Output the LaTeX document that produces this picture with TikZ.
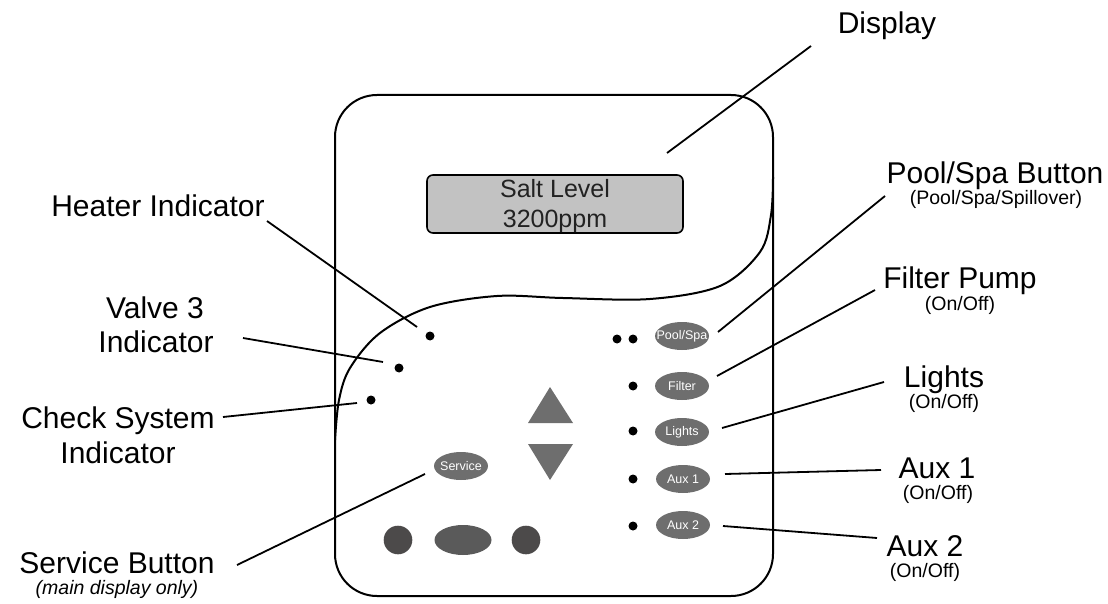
\documentclass[tikz,border=0pt]{standalone}
\usepackage{fontspec}
\setmainfont{Liberation Sans}
\usetikzlibrary{shapes.geometric}
\definecolor{btngray}{HTML}{6E6E6E}
\definecolor{darkbtn}{HTML}{4C4A4A}
\definecolor{midbtn}{HTML}{5A5A5A}
\definecolor{lcdgray}{HTML}{C2C2C2}
\definecolor{lcdtext}{HTML}{222222}
\begin{document}
\begin{tikzpicture}[x=1pt,y=-1pt,
  leader/.style={line width=1.8pt},
  outline/.style={line width=2pt},
  dot/.style={circle,fill=black,inner sep=0pt,minimum size=9pt},
  btn/.style={ellipse,fill=btngray,inner sep=0pt,minimum width=54pt,minimum height=28pt,text=white,font=\fontsize{12.5}{14}\selectfont},
  big/.style={font=\fontsize{30}{36}\selectfont,anchor=base,inner sep=0pt},
  small/.style={font=\fontsize{19.5}{23}\selectfont,anchor=base,inner sep=0pt},
  lcdfont/.style={font=\fontsize{25}{30}\selectfont,anchor=base,inner sep=0pt,text=lcdtext}]
\useasboundingbox (0,0) rectangle (1108,604);

% panel
\draw[outline, rounded corners=42pt] (335,95) rectangle (773,596);
% wavy divider
\draw[outline] plot[smooth,tension=0.55] coordinates {(773,177) (771,215) (760,252) (720,286) (650,299) (563,298) (497,296) (430,307) (380,333) (350,368) (339,400) (335,440)};

% LCD
\node[draw, line width=1.6pt, fill=lcdgray, rounded corners=6pt, minimum width=256pt, minimum height=58pt, inner sep=0pt] (lcd) at (555,204) {};
\node[lcdfont] (lcd1) at (555,197) {Salt Level};
\node[lcdfont] (lcd2) at (555,227) {3200ppm};

% indicator dots
\node[dot] (heaterdot) at (430,336) {};
\node[dot] (valvedot) at (399,368) {};
\node[dot] (checkdot) at (371,400) {};
\node[dot] (psdot1) at (617,339) {};
\node[dot] (psdot2) at (633,339) {};
\node[dot] (filterdot) at (633,386) {};
\node[dot] (lightsdot) at (633,431) {};
\node[dot] (aux1dot) at (633,479) {};
\node[dot] (aux2dot) at (633,526) {};

% buttons
\node[btn] (poolspa) at (682,336) {\makebox[0pt]{Pool/Spa}};
\node[btn] (filter) at (682,386) {\makebox[0pt]{Filter}};
\node[btn] (lights) at (682,432) {\makebox[0pt]{Lights}};
\node[btn] (aux1) at (683,479) {\makebox[0pt]{Aux 1}};
\node[btn] (aux2) at (683,525) {\makebox[0pt]{Aux 2}};
\node[btn] (service) at (461,466) {\makebox[0pt]{Service}};

% arrows
\fill[btngray] (528,423) -- (550,387) -- (573,423) -- cycle;
\fill[btngray] (528,444) -- (573,444) -- (550,480) -- cycle;

% bottom buttons
\fill[darkbtn] (398,540) circle[radius=14.3pt];
\fill[midbtn] (463,540) ellipse[x radius=28.5pt, y radius=15pt];
\fill[darkbtn] (526,540) circle[radius=14.3pt];

% labels
\node[big] (lDisplay) at (887,34) {Display};
\node[big] (lHeater) at (158,217) {Heater Indicator};
\node[big] (lValveA) at (155,318) {Valve 3};
\node[big] (lValveB) at (156,352) {Indicator};
\node[big] (lCheckA) at (118,428) {Check System};
\node[big] (lCheckB) at (118,463) {Indicator};
\node[big] (lService) at (117,573) {Service Button};
\node[small,font=\fontsize{19.5}{23}\selectfont\itshape] (lServiceB) at (117,594) {(main display only)};
\node[big] (lPool) at (995,184) {Pool/Spa Button};
\node[small] (lPoolB) at (996,205) {(Pool/Spa/Spillover)};
\node[big] (lFilter) at (960,288) {Filter Pump};
\node[small] (lFilterB) at (960,310) {(On/Off)};
\node[big] (lLights) at (944,387) {Lights};
\node[small] (lLightsB) at (944,408) {(On/Off)};
\node[big] (lAux1) at (937,478) {Aux 1};
\node[small] (lAux1B) at (938,499) {(On/Off)};
\node[big] (lAux2) at (925,556) {Aux 2};
\node[small] (lAux2B) at (925,577) {(On/Off)};

% leader end points
\coordinate (dispA) at (811,46);   \coordinate (dispB) at (667,153);
\coordinate (heatA) at (267,221);  \coordinate (heatB) at (417,327);
\coordinate (valvA) at (243,338);  \coordinate (valvB) at (383,362);
\coordinate (chkA) at (223,417);   \coordinate (chkB) at (357,403);
\coordinate (servA) at (237,565);  \coordinate (servB) at (425,474);
\coordinate (poolA) at (885,196);  \coordinate (poolB) at (718,332);
\coordinate (filtA) at (875,290);  \coordinate (filtB) at (717,376);
\coordinate (ligA) at (884,382);   \coordinate (ligB) at (722,428);
\coordinate (auxaA) at (881,470);  \coordinate (auxaB) at (725,474);
\coordinate (auxbA) at (877,538);  \coordinate (auxbB) at (723,526);

\draw[leader] (dispA) -- (dispB);
\draw[leader] (heatA) -- (heatB);
\draw[leader] (valvA) -- (valvB);
\draw[leader] (chkA) -- (chkB);
\draw[leader] (servA) -- (servB);
\draw[leader] (poolA) -- (poolB);
\draw[leader] (filtA) -- (filtB);
\draw[leader] (ligA) -- (ligB);
\draw[leader] (auxaA) -- (auxaB);
\draw[leader] (auxbA) -- (auxbB);
\end{tikzpicture}
\end{document}
